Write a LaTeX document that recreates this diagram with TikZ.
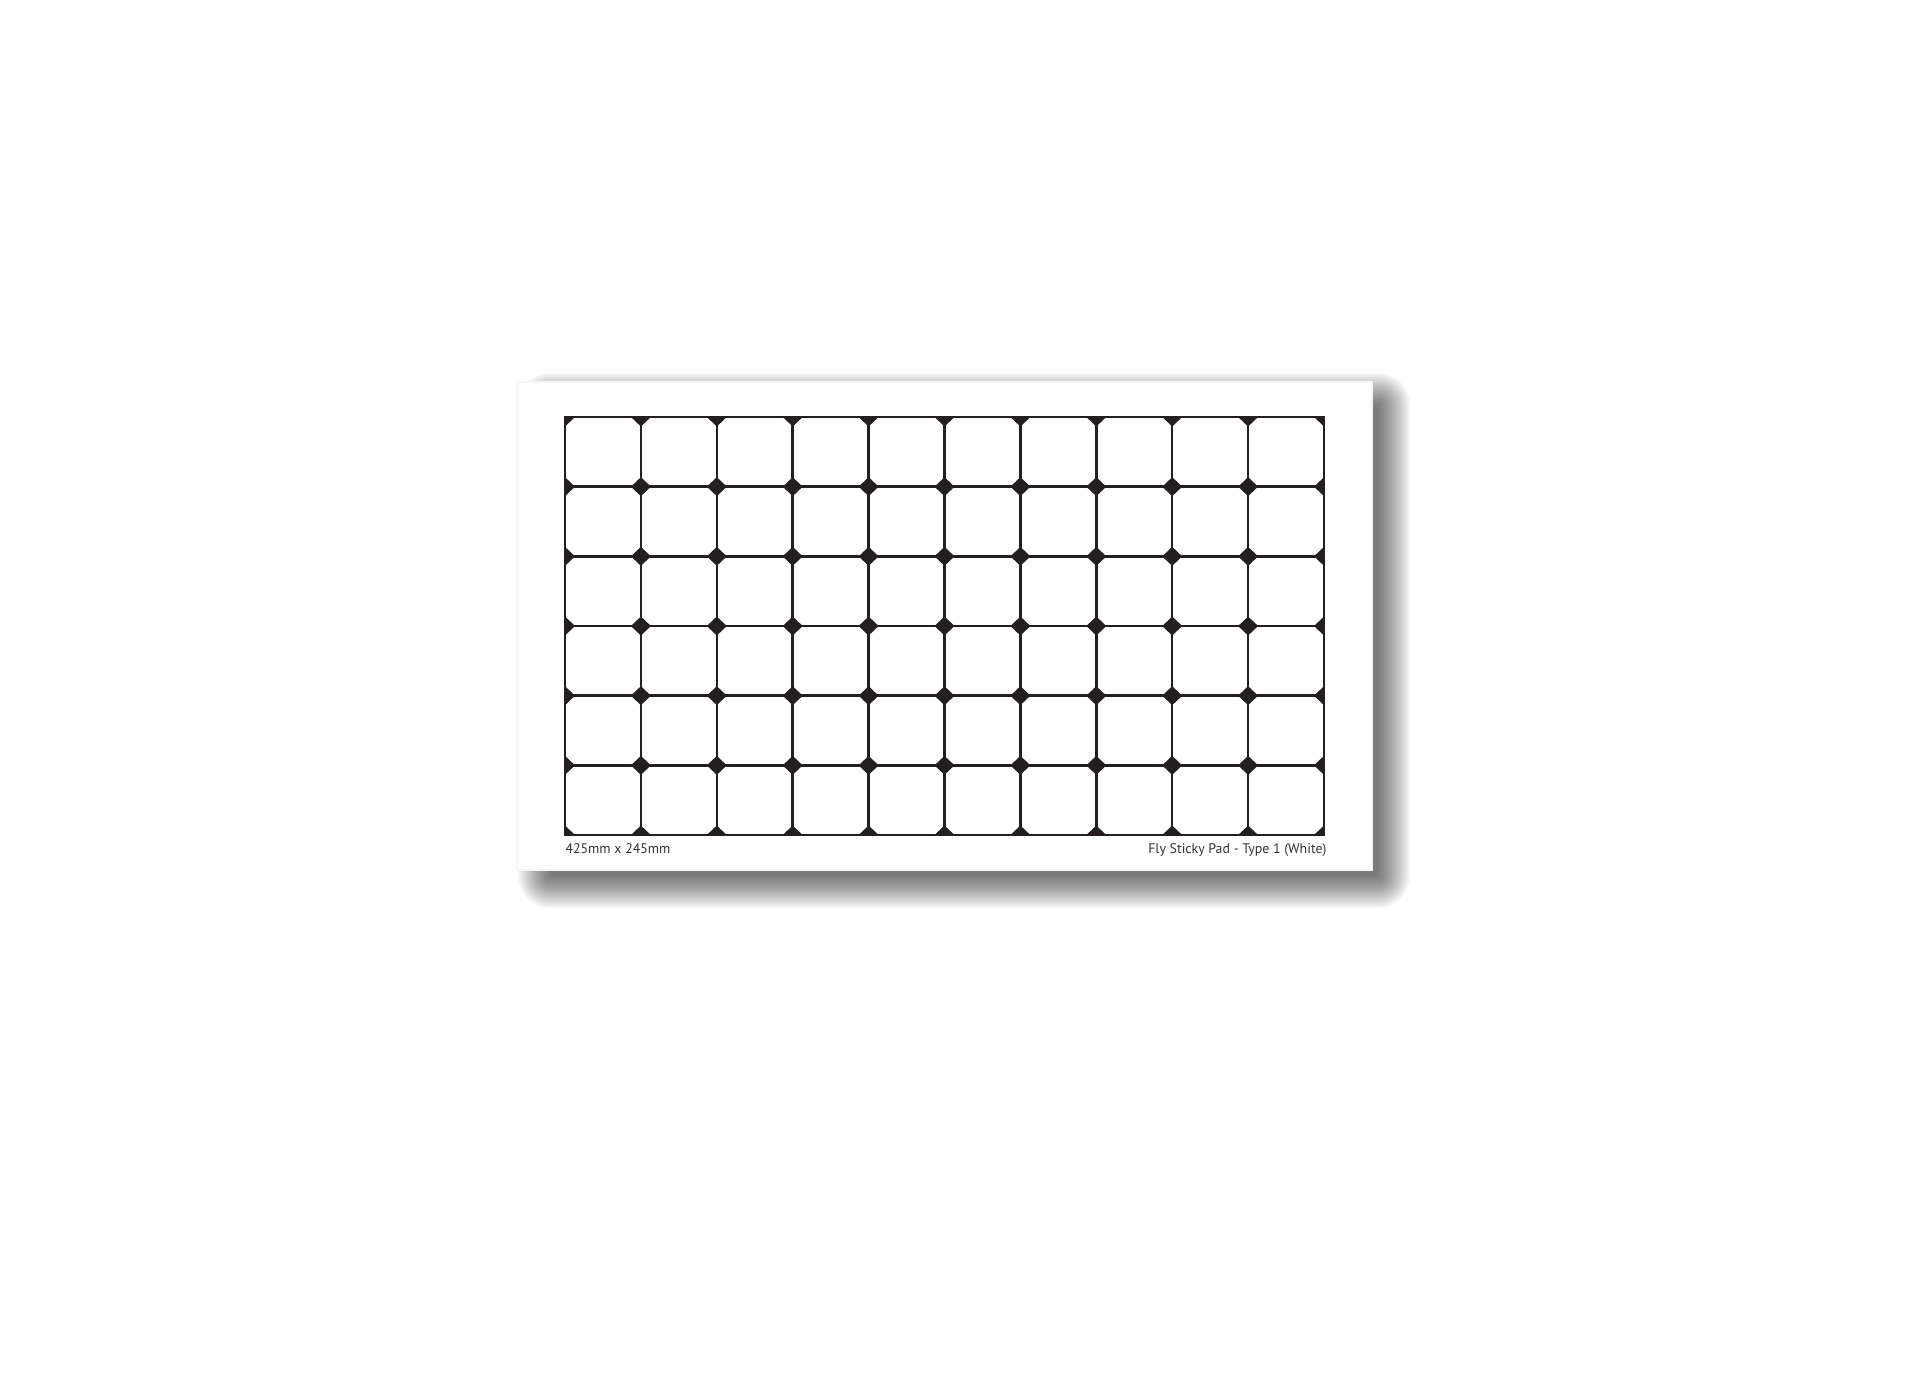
\documentclass[tikz,border=0pt]{standalone}
\usepackage{fontspec}
\setmainfont{PT Sans}
\definecolor{inkblack}{HTML}{231F20}
\definecolor{labelgray}{HTML}{333333}
\tikzset{
  gridline/.style={draw=inkblack, line width=0.95pt},
  gridframe/.style={draw=inkblack, line width=1.0pt},
  knot/.style={fill=inkblack},
  shadowlayer/.style={fill=black, fill opacity=0.04},
  cardstyle/.style={fill=white, draw=gray!8, line width=0.6pt},
  caption/.style={inner sep=0pt, text=labelgray, font=\fontsize{5.2}{6}\selectfont}
}
\begin{document}
\begin{tikzpicture}[x=0.375pt, y=-0.375pt]
\useasboundingbox (0,0) rectangle (1920,1378);
\fill[white] (0,0) rectangle (1920,1378);
% soft drop shadow (stacked translucent layers), towards lower right
\foreach \k in {0,...,16} {
  \pgfmathsetmacro{\e}{\k*2}
  \pgfmathsetmacro{\rc}{\e*0.375+0.1}
  \fill[shadowlayer, rounded corners=\rc pt]
    ({550-\e},{405-\e}) rectangle ({1378+\e},{876+\e});
}
% card
\path[cardstyle] (517,382) rectangle (1372,870);
% grid
\foreach \i in {1,...,9} {
  \draw[gridline] ({565+\i*75.9},417) -- ({565+\i*75.9},835);
}
\foreach \j in {1,...,5} {
  \draw[gridline] (565,{417+\j*69.67}) -- (1324,{417+\j*69.67});
}
\begin{scope}
  \clip (565,417) rectangle (1324,835);
  \foreach \i in {0,...,10} {
    \foreach \j in {0,...,6} {
      \fill[knot] ({565+\i*75.9},{417+\j*69.67}) +(-10,0) -- +(0,-9.5) -- +(10,0) -- +(0,9.5) -- cycle;
    }
  }
\end{scope}
\draw[gridframe] (565,417) rectangle (1324,835);
% captions
\node[caption, anchor=base west] (size) at (565,853) {425mm x 245mm};
\node[caption, anchor=base east] (title) at (1327,853) {Fly Sticky Pad - Type 1 (White)};
\end{tikzpicture}
\end{document}
